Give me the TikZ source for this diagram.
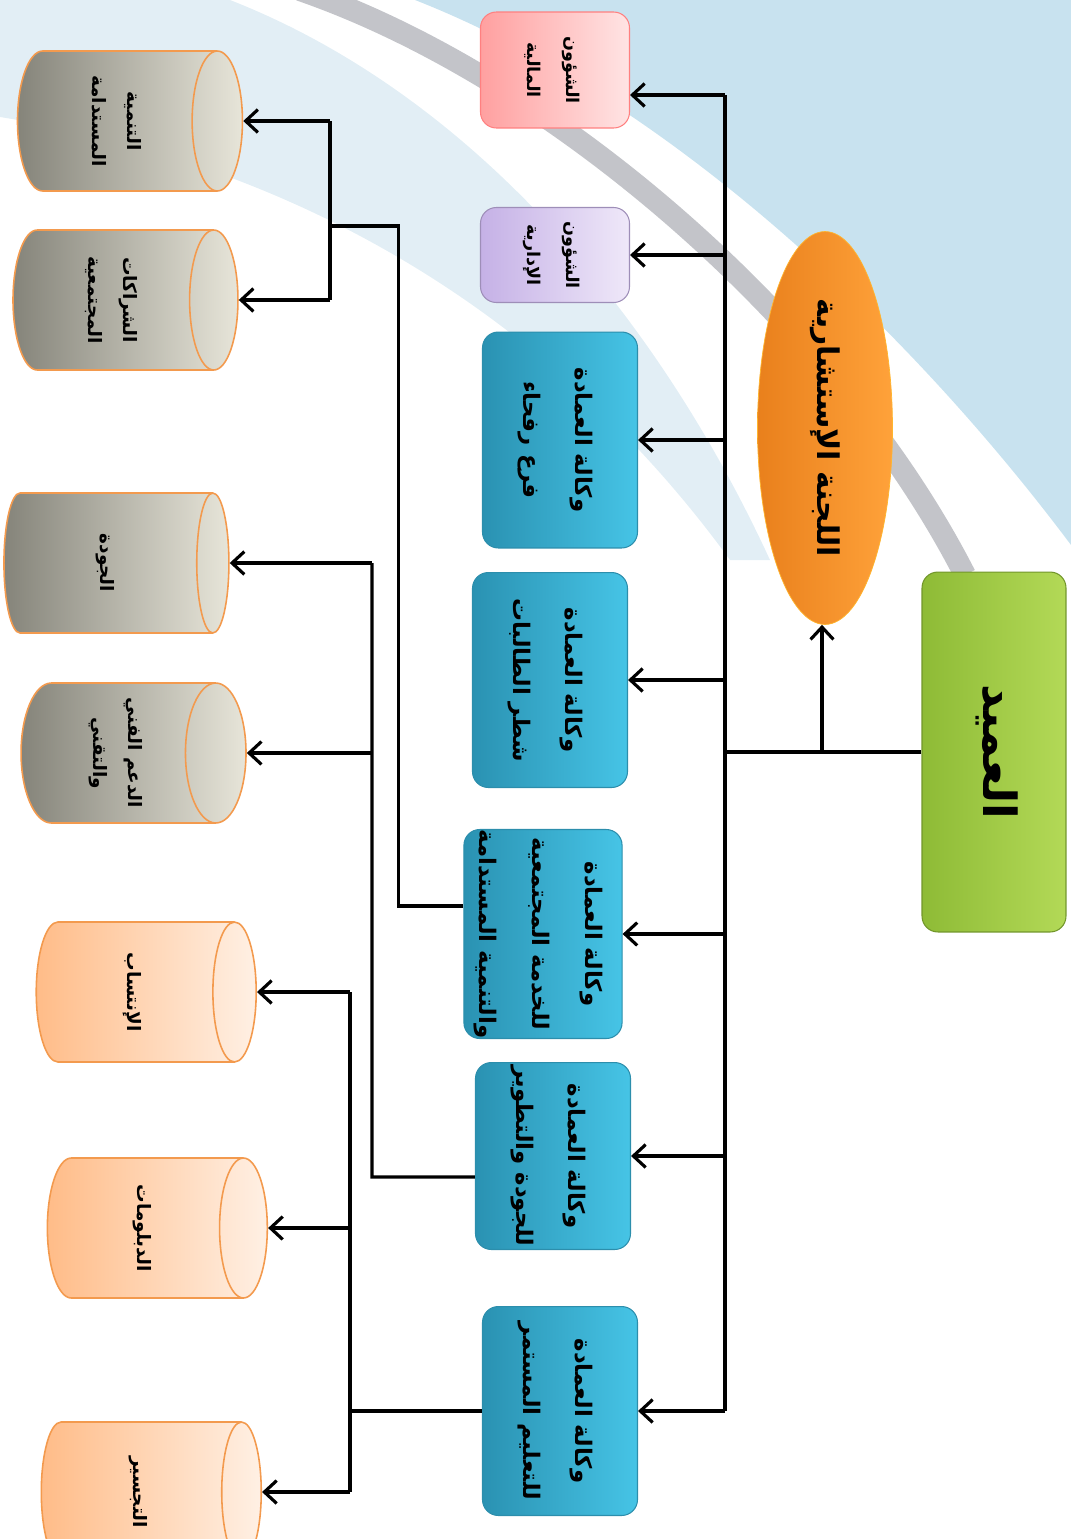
\documentclass[tikz,border=0pt]{standalone}
\usepackage{fontspec}
\newfontfamily\arabicfont[Script=Arabic]{DejaVu Sans}
\TeXXeTstate=1
\usetikzlibrary{arrows.meta,shapes.geometric}
\tikzset{>={Straight Barb[length=7pt,width=13pt,line width=1.8pt]}}
\tikzstyle{arrow} = [line width=1.9pt,->]
\tikzstyle{link} = [line width=1.9pt]
\tikzstyle{unit} = [draw, rounded corners=9pt, inner sep=0pt, line width=0.6pt,
  font=\arabicfont\bfseries\fontsize{13}{30}\selectfont]
\tikzstyle{store} = [cylinder, draw=storeedge, line width=0.9pt, shape aspect=0.55,
  inner sep=0pt, font=\arabicfont\bfseries\fontsize{10.5}{20}\selectfont]

\definecolor{skyband}{HTML}{C8E2EF}
\definecolor{paleband}{HTML}{E2EEF5}
\definecolor{stripe}{HTML}{C3C4C9}
\definecolor{storeedge}{HTML}{F39A4E}
\definecolor{agencyL}{HTML}{2A92B2}
\definecolor{agencyR}{HTML}{46C4E6}
\definecolor{agencyD}{HTML}{2C8EAC}
\definecolor{deanL}{HTML}{8EBB36}
\definecolor{deanR}{HTML}{B3D957}
\definecolor{councilL}{HTML}{E9801C}
\definecolor{councilR}{HTML}{FFA23A}
\definecolor{financeL}{HTML}{FFA0A0}
\definecolor{financeR}{HTML}{FFE4E4}
\definecolor{adminL}{HTML}{C5B1E6}
\definecolor{adminR}{HTML}{EFE8F9}
\definecolor{greyL}{HTML}{85847A}
\definecolor{greyR}{HTML}{E7E5D9}
\definecolor{peachL}{HTML}{FFBC88}
\definecolor{peachR}{HTML}{FFF0E4}

\newcommand{\vtext}[1]{\rotatebox{-90}{\begin{tabular}{@{}c@{}}#1\end{tabular}}}
\newcommand{\ar}[1]{\beginR#1\endR}

\begin{document}
\begin{tikzpicture}[x=0.02cm, y=-0.02cm]

\clip (0,0) rectangle (1071,1539);

% background bands
\fill[paleband] (0,0) -- (230,0) .. controls (460,90) and (650,300) .. (770,560)
  -- (730,560) .. controls (570,340) and (330,170) .. (0,117) -- cycle;
\fill[skyband] (415,0) -- (1071,0) -- (1071,545)
  .. controls (910,330) and (670,100) .. (415,0) -- cycle;
\draw[stripe, line width=0.44cm] (300,-10) .. controls (560,80) and (840,330) .. (965,575);

% dean and council
\node[unit, left color=deanL, right color=deanR, draw=deanL!80!black,
  minimum width=2.88cm, minimum height=7.2cm, font=\arabicfont\bfseries\fontsize{26}{30}\selectfont]
  (dean) at (994,752) {\vtext{\ar{العميد}}};
\node[ellipse, draw=councilR!80!yellow, left color=councilL, right color=councilR,
  minimum width=2.7cm, minimum height=7.86cm, inner sep=0pt,
  font=\arabicfont\bfseries\fontsize{17}{20}\selectfont]
  (council) at (825,428) {\vtext{\ar{اللجنة الإستشارية}}};

% units
\node[unit, left color=financeL, right color=financeR, draw=red!50,
  minimum width=2.98cm, minimum height=2.32cm, font=\arabicfont\bfseries\fontsize{10}{22}\selectfont]
  (finance) at (555,70) {\vtext{\ar{الشؤون}\\\ar{المالية}}};
\node[unit, left color=adminL, right color=adminR, draw=adminL!80!black,
  minimum width=2.98cm, minimum height=1.9cm, font=\arabicfont\bfseries\fontsize{10}{22}\selectfont]
  (admin) at (555,255) {\vtext{\ar{الشؤون}\\\ar{الإدارية}}};

\foreach \n/\x/\y/\h/\t in {
    rafha/560/440/4.32/{\ar{وكالة العمادة}\\\ar{فرع رفحاء}},
    girls/550/680/4.3/{\ar{وكالة العمادة}\\\ar{شطر الطالبات}},
    community/543/934/3.92/{\ar{وكالة العمادة}\\\ar{للخدمة المجتمعية}\\\ar{والتنمية المستدامة}},
    quality/553/1156/3.74/{\ar{وكالة العمادة}\\\ar{للجودة والتطوير}},
    conted/560/1411/4.18/{\ar{وكالة العمادة}\\\ar{للتعليم المستمر}}}
  \node[unit, left color=agencyL, right color=agencyR, draw=agencyD,
    minimum width=3.1cm, minimum height=\h cm]
    (\n) at (\x,\y) {\vtext{\t}};

% programs
\foreach \n/\x/\y/\t in {
    sustain/117/121/{\ar{التنمية}\\\ar{المستدامة}},
    partner/113/300/{\ar{الشراكات}\\\ar{المجتمعية}},
    qualityc/108/563/{\ar{الجودة}},
    techsup/118/753/{\ar{الدعم الفني}\\\ar{والتقني}}}
  \node[store, left color=greyL, right color=greyR,
    minimum height=4.5cm, minimum width=2.8cm] (\n) at (\x,\y) {\vtext{\t}};

\foreach \n/\x/\y/\t in {
    affil/135/992/{\ar{الإنتساب}},
    diploma/145/1228/{\ar{الدبلومات}},
    bridging/141/1492/{\ar{التجسير}}}
  \node[store, left color=peachL, right color=peachR,
    minimum height=4.4cm, minimum width=2.8cm] (\n) at (\x,\y) {\vtext{\t}};

% trunk
\coordinate (trunk-top) at (725,95);
\coordinate (trunk-bot) at (725,1411);
\coordinate (fork) at (822,752);
\draw[link] (dean.west) -- (dean.west -| trunk-top);
\draw[link] (trunk-top) -- (trunk-bot);
\draw[arrow] (fork) -- (fork |- council.south);
\draw[arrow] (trunk-top) -- (trunk-top -| finance.east);

\foreach \n in {admin, rafha, girls, community, quality, conted}
  \draw[arrow] (\n.east -| trunk-top) -- (\n.east);

% community service branch
\coordinate (hub-a) at (330,226);
\draw[link] ([yshift=0.56cm]community.west) -- ++(-65,0) |- (hub-a);
\draw[link] (hub-a |- sustain.east) -- (hub-a |- partner.east);
\foreach \n in {sustain, partner}
  \draw[arrow] (hub-a |- \n.east) -- (\n.east);

% quality branch
\coordinate (hub-b) at (372,1177);
\draw[link] ([yshift=-0.42cm]quality.west) -- (hub-b) -- (hub-b |- qualityc.east);
\foreach \n in {qualityc, techsup}
  \draw[arrow] (hub-b |- \n.east) -- (\n.east);

% continuing education branch
\coordinate (hub-c) at (350,1411);
\draw[link] (conted.west) -- (hub-c);
\draw[link] (hub-c |- affil.east) -- (hub-c |- bridging.east);
\foreach \n in {affil, diploma, bridging}
  \draw[arrow] (hub-c |- \n.east) -- (\n.east);

\end{tikzpicture}
\end{document}
